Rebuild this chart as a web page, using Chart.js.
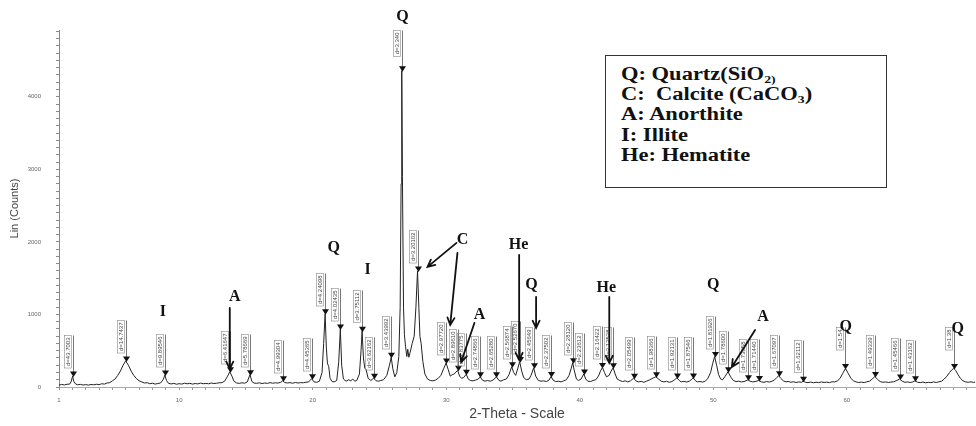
<!DOCTYPE html>
<html><head><meta charset="utf-8">
<script src="https://cdn.jsdelivr.net/npm/chart.js@4.4.1/dist/chart.umd.min.js"></script>
<style>
html,body{margin:0;padding:0;background:#fff;}
#wrap{position:relative;width:976px;height:426px;overflow:hidden;}
#legend{position:absolute;left:605px;top:55px;width:282px;height:133px;border:1.5px solid #333;box-sizing:border-box;background:#fff;}
#legend div{position:absolute;left:15px;font:bold 18px "Liberation Serif",serif;white-space:nowrap;transform:scaleX(1.25);transform-origin:left center;line-height:20px;color:#111;}
#legend sub{font-size:11px;vertical-align:-3px;line-height:0;}
</style></head><body>
<div id="wrap"><canvas id="c" width="976" height="426"></canvas>
<div id="legend">
<div style="top:8px">Q: Quartz(SiO<sub>2)</sub></div>
<div style="top:28px">C:&nbsp; Calcite (CaCO<sub>3</sub>)</div>
<div style="top:48px">A: Anorthite</div>
<div style="top:69px">I: Illite</div>
<div style="top:89px">He: Hematite</div>
</div></div>
<script>
// measured diffraction profile: [2-theta, Lin counts]
const pattern = [
[1.0,25],[1.2,35],[1.4,28],[1.6,38],[1.8,40],[1.9,70],[2.02,150],[2.1,80],[2.25,40],[2.4,30],[2.6,36],[2.8,27],[3.0,33],[3.2,26],[3.4,35],[3.6,30],[3.8,38],[4.0,32],[4.2,45],[4.4,40],[4.6,55],[4.8,60],[5.0,85],[5.2,110],[5.4,160],[5.6,220],[5.8,300],[5.99,360],[6.2,300],[6.4,220],[6.6,160],[6.8,115],[7.0,85],[7.2,70],[7.4,55],[7.6,60],[7.8,45],[8.0,52],[8.2,40],[8.4,48],[8.6,55],[8.8,100],[8.93,165],[9.05,90],[9.2,50],[9.4,42],[9.6,50],[9.8,38],[10.0,46],[10.2,40],[10.4,52],[10.6,44],[10.8,50],[11.0,40],[11.2,48],[11.4,42],[11.6,54],[11.8,45],[12.0,50],[12.2,44],[12.4,55],[12.6,48],[12.8,52],[13.0,58],[13.2,60],[13.4,80],[13.6,140],[13.79,210],[13.95,150],[14.1,80],[14.3,55],[14.5,50],[14.7,58],[14.9,52],[15.1,70],[15.3,170],[15.45,75],[15.6,55],[15.8,50],[16.0,58],[16.2,48],[16.4,55],[16.6,50],[16.8,60],[17.0,52],[17.2,58],[17.4,54],[17.6,65],[17.75,85],[17.9,62],[18.1,55],[18.3,60],[18.5,52],[18.7,62],[18.9,55],[19.1,60],[19.3,58],[19.5,66],[19.7,70],[19.92,115],[20.1,70],[20.3,65],[20.5,80],[20.7,200],[20.82,600],[20.93,1010],[21.02,550],[21.1,330],[21.2,280],[21.3,120],[21.45,75],[21.6,70],[21.8,90],[21.95,350],[22.07,800],[22.17,300],[22.3,110],[22.5,80],[22.7,100],[22.85,85],[23.0,110],[23.15,80],[23.3,90],[23.5,180],[23.62,500],[23.70,770],[23.8,400],[23.9,260],[24.0,240],[24.15,120],[24.35,90],[24.56,120],[24.75,85],[24.95,80],[25.1,90],[25.3,100],[25.55,160],[25.75,300],[25.88,410],[26.0,250],[26.15,140],[26.3,200],[26.45,420],[26.55,1100],[26.62,2800],[26.67,4360],[26.72,2900],[26.80,1100],[26.87,720],[26.95,560],[27.05,420],[27.12,520],[27.2,410],[27.3,480],[27.45,600],[27.6,700],[27.73,1100],[27.85,1600],[27.95,1100],[28.03,700],[28.12,600],[28.25,350],[28.4,180],[28.6,110],[28.8,90],[29.0,85],[29.2,95],[29.4,120],[29.6,160],[29.8,250],[29.99,330],[30.15,240],[30.3,150],[30.45,170],[30.6,180],[30.85,230],[31.0,150],[31.15,120],[31.3,130],[31.5,175],[31.65,110],[31.8,90],[32.0,85],[32.2,95],[32.4,110],[32.55,140],[32.7,95],[32.9,80],[33.1,90],[33.3,80],[33.5,95],[33.76,140],[33.95,90],[34.1,80],[34.3,100],[34.5,110],[34.7,170],[34.9,280],[35.05,200],[35.2,160],[35.35,250],[35.5,350],[35.65,220],[35.8,130],[36.0,100],[36.2,110],[36.35,160],[36.55,265],[36.7,150],[36.9,90],[37.1,80],[37.3,85],[37.5,75],[37.7,95],[37.85,145],[38.0,95],[38.2,75],[38.4,80],[38.6,70],[38.8,85],[39.0,100],[39.2,160],[39.35,250],[39.47,335],[39.6,220],[39.75,110],[39.9,90],[40.1,110],[40.3,180],[40.45,110],[40.6,80],[40.8,75],[41.0,90],[41.2,100],[41.4,150],[41.55,220],[41.7,270],[41.85,200],[42.0,140],[42.2,160],[42.35,220],[42.5,265],[42.65,180],[42.8,110],[43.0,90],[43.2,75],[43.4,85],[43.6,70],[43.8,85],[44.03,120],[44.2,85],[44.4,70],[44.6,78],[44.8,65],[45.0,80],[45.2,95],[45.5,125],[45.7,140],[45.9,110],[46.1,80],[46.3,70],[46.5,78],[46.7,65],[46.9,75],[47.1,100],[47.27,125],[47.45,90],[47.6,70],[47.8,78],[48.0,68],[48.2,80],[48.35,100],[48.5,125],[48.65,90],[48.8,70],[49.0,75],[49.2,68],[49.4,80],[49.6,120],[49.8,200],[49.95,320],[50.1,420],[50.25,300],[50.4,170],[50.55,110],[50.7,100],[50.9,150],[51.1,210],[51.3,140],[51.5,90],[51.7,75],[51.9,80],[52.1,70],[52.3,75],[52.45,85],[52.6,100],[52.75,80],[52.95,70],[53.2,78],[53.4,90],[53.6,70],[53.8,65],[54.0,75],[54.2,68],[54.4,80],[54.6,100],[54.75,130],[54.9,155],[55.05,120],[55.25,85],[55.45,70],[55.6,78],[55.8,65],[56.0,72],[56.2,62],[56.4,70],[56.6,65],[56.74,80],[56.9,65],[57.1,60],[57.3,68],[57.5,58],[57.7,66],[57.9,60],[58.1,70],[58.3,62],[58.5,68],[58.7,60],[58.9,72],[59.1,70],[59.3,85],[59.5,120],[59.7,190],[59.9,255],[60.1,190],[60.3,120],[60.5,85],[60.7,70],[60.9,62],[61.1,68],[61.3,60],[61.5,72],[61.7,80],[61.9,110],[62.1,145],[62.3,105],[62.5,75],[62.7,65],[62.9,70],[63.1,62],[63.3,68],[63.5,72],[63.75,90],[63.95,110],[64.15,80],[64.35,65],[64.55,70],[64.75,62],[64.95,70],[65.1,85],[65.3,65],[65.5,60],[65.7,68],[65.9,58],[66.1,65],[66.3,60],[66.5,70],[66.7,62],[66.9,72],[67.1,80],[67.3,110],[67.5,150],[67.7,200],[67.85,235],[68.0,255],[68.15,230],[68.3,180],[68.5,120],[68.7,85],[68.9,70],[69.1,65],[69.3,72],[69.5,62],[69.6,68]
];

// marked peaks
const peakTheta  = [2.02,5.99,8.93,13.79,15.3,17.75,19.92,20.93,22.07,23.7,24.56,25.88,26.67,27.85,29.99,30.85,31.5,32.55,33.76,34.9,35.5,36.55,37.85,39.47,40.3,41.7,42.5,44.03,45.7,47.27,48.5,50.1,51.1,52.6,53.4,54.9,56.74,59.9,62.1,63.95,65.1,68.0];
const peakCounts = [150,360,165,210,170,85,115,1010,800,770,120,410,4360,1600,330,230,175,140,140,280,350,265,145,335,180,270,265,120,140,125,125,420,210,100,90,155,80,255,145,110,85,255];
const peakLabels = ['d=43.7003','d=14.7437','d=9.89546','d=6.41647','d=5.78669','d=4.99304','d=4.45365','d=4.24098','d=4.02435','d=3.75112','d=3.62162','d=3.43992','d=3.340','d=3.20102','d=2.97720','d=2.89610','d=2.83775','d=2.74866','d=2.65280','d=2.56874','d=2.52670','d=2.45649','d=2.37502','d=2.28120','d=2.23612','d=2.16422','d=2.12528','d=2.05499','d=1.98366','d=1.92131','d=1.87546','d=1.81926','d=1.78600','d=1.73858','d=1.71440','d=1.67097','d=1.62112','d=1.54','d=1.49339','d=1.45466','d=1.43162','d=1.38'];

// phase letters (placed in data coordinates)
const annLetters = ['Q','Q','I','I','A','C','A','He','Q','He','Q','A','Q','Q'];
const annTheta   = [26.73,21.57,24.11,8.78,14.16,31.22,32.49,35.41,36.38,41.99,49.99,53.73,59.91,68.31];
const annCounts  = [5100,1917,1614,1034,1241,2028,993,1959,1407,1366,1407,966,828,800];
// arrows: [theta start, counts start, theta end, counts end]
const annArrows = [[13.79,1090,13.79,250],[30.77,1986,28.6,1655],[30.84,1848,30.3,855],[32.11,883,31.12,345],[35.46,1821,35.46,372],[36.73,1241,36.73,814],[42.21,1241,42.21,331],[53.13,786,51.39,276]];

const xTickMajor = [1,10,20,30,40,50,60];

const markerPlugin = {
  id:'markers',
  afterDraw(chart){
    const {ctx, scales:{x,y}} = chart;
    ctx.save();
    ctx.font = '6px "Liberation Sans"';
    peakTheta.forEach((t,i)=>{
      const px = Math.round(x.getPixelForValue(t))+0.5;
      const py = y.getPixelForValue(peakCounts[i]);
      const top = Math.round(py - 41)+0.5;
      ctx.strokeStyle='#555'; ctx.lineWidth=0.8;
      ctx.beginPath(); ctx.moveTo(px, top); ctx.lineTo(px, py-3); ctx.stroke();
      ctx.fillStyle='#111';
      ctx.beginPath(); ctx.moveTo(px-3.5, py-4.5); ctx.lineTo(px+3.5, py-4.5); ctx.lineTo(px, py+1); ctx.closePath(); ctx.fill();
      const w = ctx.measureText(peakLabels[i]).width + 4;
      ctx.strokeStyle='#888'; ctx.lineWidth=0.6;
      ctx.strokeRect(px-9, top, 7, w);
      ctx.save(); ctx.translate(px-5.5, top + w/2); ctx.rotate(-Math.PI/2);
      ctx.fillStyle='#444'; ctx.textAlign='center'; ctx.textBaseline='middle';
      ctx.fillText(peakLabels[i],0,0); ctx.restore();
    });
    ctx.fillStyle='#111'; ctx.font='bold 16px "Liberation Serif"';
    ctx.textAlign='center'; ctx.textBaseline='middle';
    annLetters.forEach((L,i)=>{
      ctx.fillText(L, x.getPixelForValue(annTheta[i]), y.getPixelForValue(annCounts[i]));
    });
    ctx.strokeStyle='#111'; ctx.lineWidth=1.8; ctx.lineCap='round';
    annArrows.forEach(a=>{
      const x1=x.getPixelForValue(a[0]), y1=y.getPixelForValue(a[1]);
      const x2=x.getPixelForValue(a[2]), y2=y.getPixelForValue(a[3]);
      const ang=Math.atan2(y2-y1,x2-x1), h=8, s=0.45;
      ctx.beginPath(); ctx.moveTo(x1,y1); ctx.lineTo(x2,y2);
      ctx.moveTo(x2-h*Math.cos(ang-s), y2-h*Math.sin(ang-s)); ctx.lineTo(x2,y2);
      ctx.lineTo(x2-h*Math.cos(ang+s), y2-h*Math.sin(ang+s));
      ctx.stroke();
    });
    ctx.restore();
  }
};

new Chart(document.getElementById('c'), {
  type:'line',
  data:{datasets:[{data: pattern.map(p=>({x:p[0],y:p[1]})), borderColor:'#222', borderWidth:1, pointRadius:0, tension:0, fill:false}]},
  options:{
    responsive:false, animation:false,
    layout:{padding:{top:30,right:1,left:0,bottom:0}},
    plugins:{legend:{display:false},tooltip:{enabled:false}},
    scales:{
      x:{type:'linear',min:1,max:69.6, afterFit:s=>{s.height=39;},
        ticks:{stepSize:1,autoSkip:false,maxRotation:0,includeBounds:false,font:{size:6,family:'Liberation Sans'},color:'#666',padding:7,
          callback:v=> xTickMajor.includes(v)? String(v):''},
        grid:{drawOnChartArea:false,tickLength:3,color:'#999'},
        border:{color:'#aaa'},
        title:{display:true,text:'2-Theta - Scale',font:{size:14,family:'Liberation Sans'},color:'#444',padding:{top:0,bottom:3}}},
      y:{min:0,max:4920, afterFit:s=>{s.width=59;},
        ticks:{stepSize:100,autoSkip:false,includeBounds:false,font:{size:6,family:'Liberation Sans'},color:'#666',padding:15,
          callback:v=> v%1000===0? String(v):''},
        grid:{drawOnChartArea:false,tickLength:3,color:'#888'},
        border:{color:'#888'},
        title:{display:true,text:'Lin (Counts)',font:{size:11,family:'Liberation Sans'},color:'#444',padding:{top:8,bottom:0}}}
    }
  },
  plugins:[markerPlugin]
});
</script>
</body></html>
